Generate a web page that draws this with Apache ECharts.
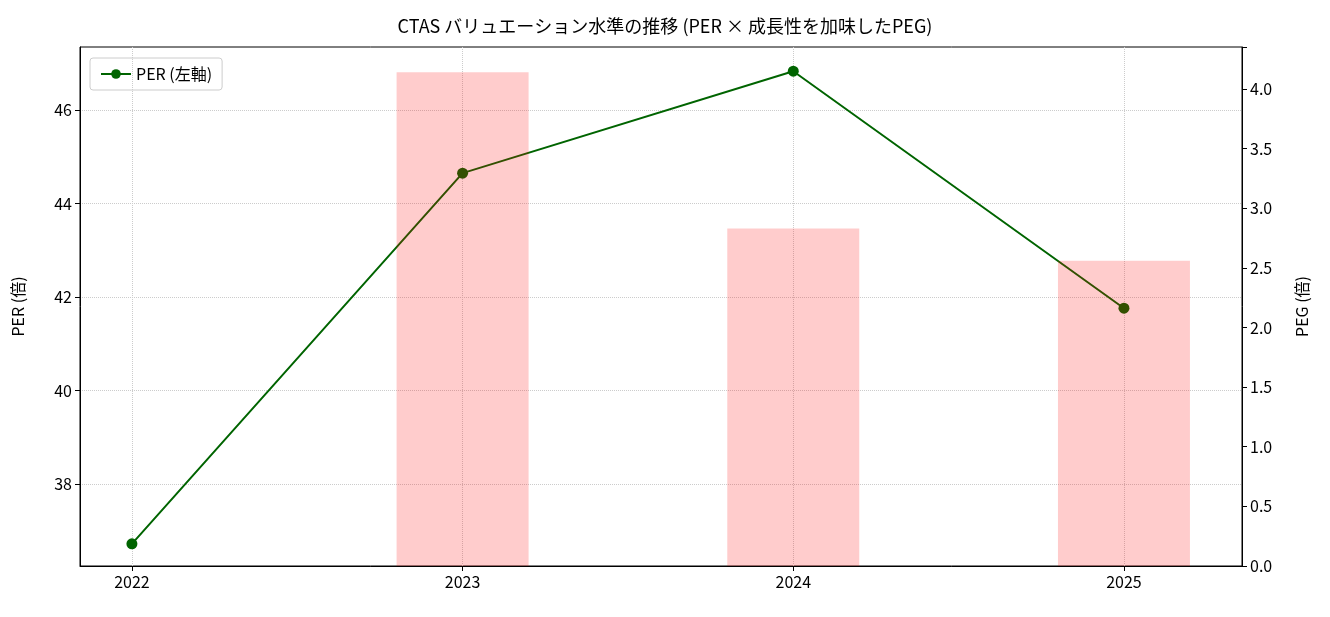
<!DOCTYPE html>
<html><head><meta charset="utf-8">
<script src="https://cdn.jsdelivr.net/npm/echarts@6/dist/echarts.min.js"></script>
<style>html,body{margin:0;background:#fff}#c{width:1330px;height:617px}</style>
</head><body><div id="c"></div>
<script>
const years = [2022, 2023, 2024, 2025];
const per = [36.72, 44.65, 46.83, 41.76];
const peg = [null, 4.14, 2.83, 2.56];
const perTicks = [38, 40, 42, 44, 46];
const F = '"Noto Sans CJK JP", sans-serif';
const chart = echarts.init(document.getElementById('c'));
chart.setOption({
  animation: false,
  textStyle: {fontFamily: F},
  title: {text: 'CTAS バリュエーション水準の推移 (PER × 成長性を加味したPEG)', left: 'center', top: 12,
    textStyle: {fontFamily: F, fontSize: 18, fontWeight: 'normal', color: '#000'}},
  legend: {left: 90, top: 58, padding: [8, 10], data: [{name: 'PER (左軸)'}], borderColor: '#ccc', borderWidth: 1, borderRadius: 3,
    itemWidth: 30, itemHeight: 12, textStyle: {fontFamily: F, fontSize: 16, color: '#000'}},
  grid: {left: 80, right: 88, top: 47, bottom: 51, show: true, borderColor: '#000', borderWidth: 1},
  xAxis: {type: 'value', min: 2021.843, max: 2025.357,
    axisLine: {onZero: false, lineStyle: {color: '#000'}},
    axisTick: {show: true, customValues: years, lineStyle: {color: '#000'}},
    axisLabel: {customValues: years, color: '#000', fontSize: 16, formatter: v => String(v)},
    splitLine: {show: true, lineStyle: {type: 'dotted', color: '#ccc'}}},
  yAxis: [
    {type: 'value', min: 36.246, max: 47.348, name: 'PER (倍)', nameLocation: 'middle', nameGap: 54, nameRotate: 90,
      nameTextStyle: {fontFamily: F, fontSize: 16, color: '#000'},
      axisLine: {show: true, lineStyle: {color: '#000'}},
      axisTick: {show: true, customValues: perTicks, lineStyle: {color: '#000'}},
      axisLabel: {customValues: perTicks, color: '#000', fontSize: 16},
      splitLine: {show: true, lineStyle: {type: 'dotted', color: '#ccc'}}},
    {type: 'value', min: 0, max: 4.352, interval: 0.5, name: 'PEG (倍)', nameLocation: 'middle', nameGap: 52, nameRotate: 90,
      nameTextStyle: {fontFamily: F, fontSize: 16, color: '#000'},
      axisLine: {show: true, lineStyle: {color: '#000'}},
      axisTick: {show: true, lineStyle: {color: '#000'}},
      axisLabel: {color: '#000', fontSize: 16, formatter: v => v > 4.01 ? '' : v.toFixed(1)},
      splitLine: {show: false}}
  ],
  series: [
    {name: 'PER (左軸)', type: 'line', yAxisIndex: 0, z: 2, data: years.map((y, i) => [y, per[i]]),
      symbol: 'circle', symbolSize: 11, lineStyle: {color: '#006400', width: 2}, itemStyle: {color: '#006400'}},
    {name: 'PEG', type: 'bar', yAxisIndex: 1, z: 5, barWidth: 132, data: years.map((y, i) => [y, peg[i]]),
      itemStyle: {color: 'rgba(255,0,0,0.2)'}}
  ]
});
</script></body></html>
